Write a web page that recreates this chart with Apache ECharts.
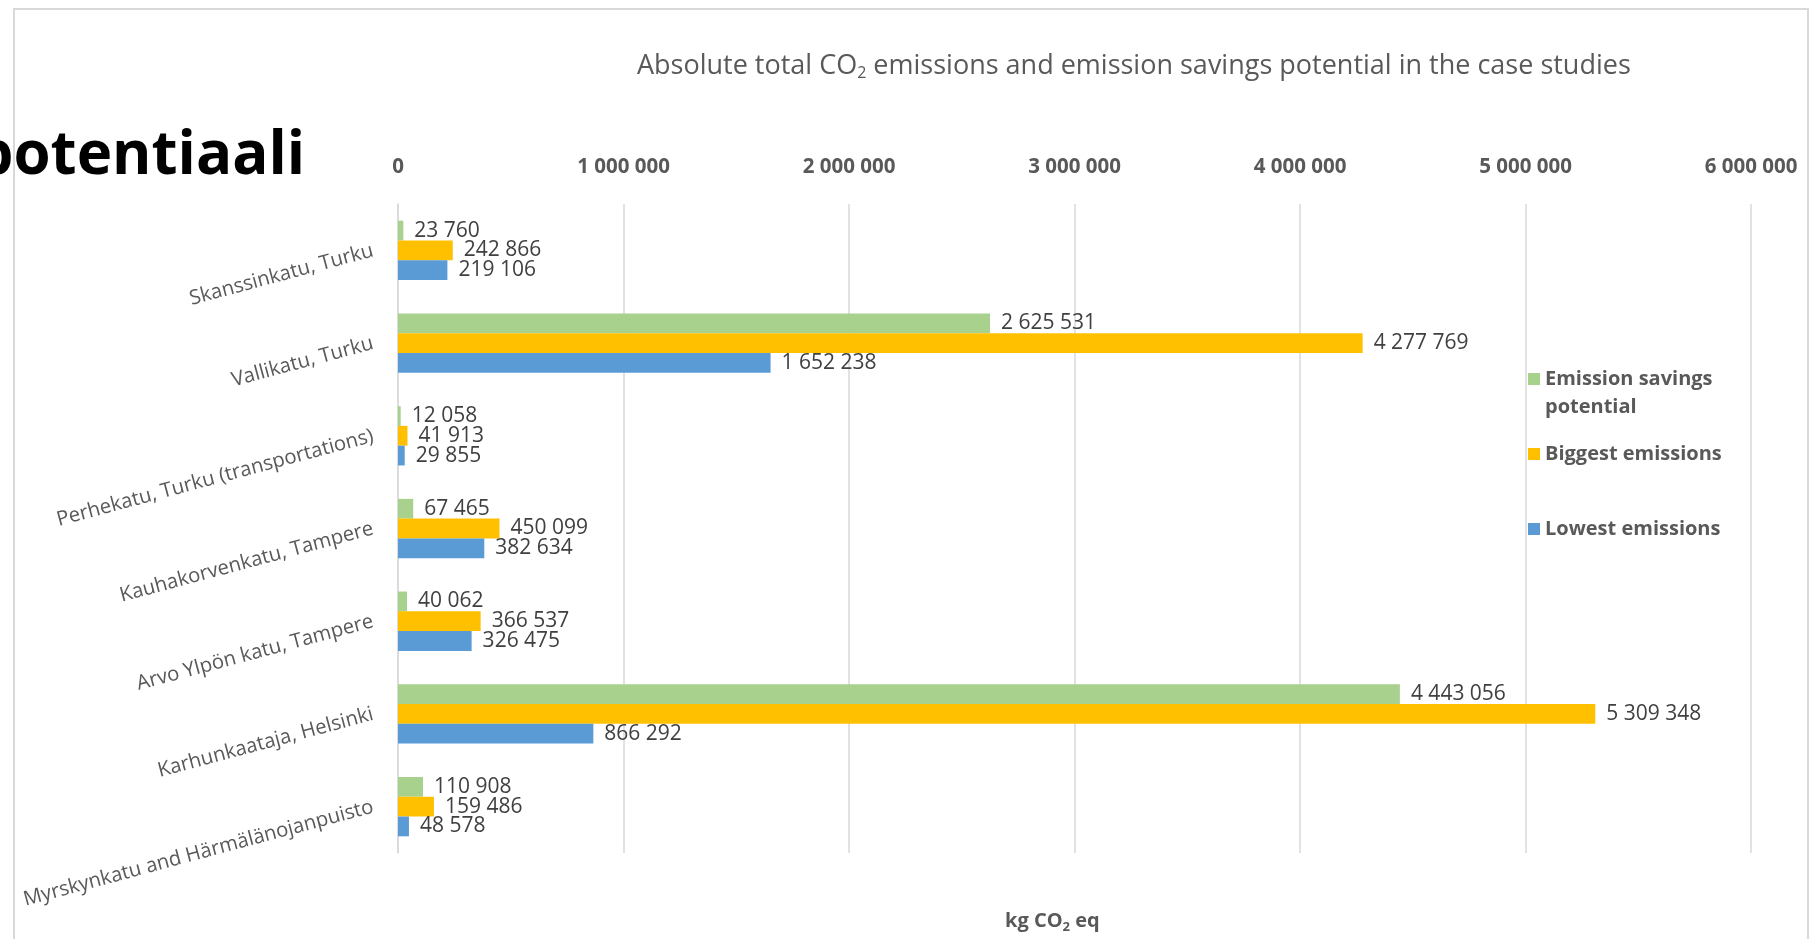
<!DOCTYPE html>
<html>
<head>
<meta charset="utf-8">
<title>CO2 emissions and savings potential</title>
<script src="https://cdn.jsdelivr.net/npm/echarts@6/dist/echarts.min.js"></script>
<style>
  html, body { margin: 0; padding: 0; background: #ffffff; }
  #chart { width: 1817px; height: 939px; }
</style>
</head>
<body>
<div id="chart"></div>
<script>
// Case study sites, top to bottom
const sites = [
  'Skanssinkatu, Turku',
  'Vallikatu, Turku',
  'Perhekatu, Turku (transportations)',
  'Kauhakorvenkatu, Tampere',
  'Arvo Ylpön katu, Tampere',
  'Karhunkaataja, Helsinki',
  'Myrskynkatu and Härmälänojanpuisto'
];

// kg CO2 eq per site
const savingsPotential = [23760, 2625531, 12058, 67465, 40062, 4443056, 110908];
const biggestEmissions = [242866, 4277769, 41913, 450099, 366537, 5309348, 159486];
const lowestEmissions  = [219106, 1652238, 29855, 382634, 326475, 866292, 48578];

const seriesNames = ['Emission savings potential', 'Biggest emissions', 'Lowest emissions'];

// Value axis ticks
const axisMin = 0;
const axisMax = 6000000;
const axisStep = 1000000;

const FONT = '"Open Sans", sans-serif';
const GREY = '#595959';

function spaced(v) {
  return String(Math.round(v)).replace(/\B(?=(\d{3})+(?!\d))/g, ' ');
}

const chart = echarts.init(document.getElementById('chart'), null, { renderer: 'canvas' });

const barLabel = {
  show: true,
  position: 'right',
  distance: 11,
  color: '#404040',
  fontFamily: FONT,
  fontSize: 21,
  formatter: p => spaced(p.value)
};

function legendBox(name, top, extra) {
  return Object.assign({
    data: [name],
    orient: 'vertical',
    left: 1528,
    top: top,
    padding: 0,
    itemWidth: 12,
    itemHeight: 12,
    itemGap: 8,
    icon: 'rect',
    selectedMode: false,
    textStyle: { color: GREY, fontFamily: FONT, fontWeight: 'bold', fontSize: 20, lineHeight: 28 }
  }, extra || {});
}

chart.setOption({
  backgroundColor: '#ffffff',
  animation: false,
  title: [
    {
      text: '{a|Absolute total CO}{s|2}{a| emissions and emission savings potential in the case studies}',
      left: 637,
      top: 51,
      padding: 0,
      textStyle: {
        fontWeight: 'normal',
        rich: {
          a: { fontFamily: FONT, fontSize: 27, fontWeight: 'normal', color: GREY, lineHeight: 30 },
          s: { fontFamily: FONT, fontSize: 16, fontWeight: 'normal', color: GREY, lineHeight: 18, verticalAlign: 'bottom' }
        }
      }
    },
    {
      text: '{a|kg CO}{s|2}{a| eq}',
      left: 1005,
      top: 908,
      padding: 0,
      textStyle: {
        rich: {
          a: { fontFamily: FONT, fontSize: 20, fontWeight: 'bold', color: GREY, lineHeight: 26 },
          s: { fontFamily: FONT, fontSize: 13, fontWeight: 'bold', color: GREY, lineHeight: 14, verticalAlign: 'bottom' }
        }
      }
    }
  ],
  legend: [
    // leading blank line keeps the swatch level with the first line of the wrapped name
    legendBox(seriesNames[0], 337, { formatter: '\nEmission savings\npotential' }),
    legendBox(seriesNames[1], 440),
    legendBox(seriesNames[2], 515)
  ],
  grid: {
    left: 398,
    right: 66,
    top: 204,
    bottom: 86,
    containLabel: false,
    outerBoundsMode: 'none'
  },
  xAxis: {
    type: 'value',
    position: 'top',
    min: axisMin,
    max: axisMax,
    interval: axisStep,
    axisLine: { show: false },
    axisTick: { show: false },
    axisLabel: {
      margin: 26,
      color: GREY,
      fontFamily: FONT,
      fontWeight: 'bold',
      fontSize: 20.5,
      formatter: v => spaced(v)
    },
    splitLine: { show: true, lineStyle: { color: '#d9d9d9', width: 1.5 } }
  },
  yAxis: {
    type: 'category',
    inverse: true,
    data: sites,
    axisLine: { show: true, lineStyle: { color: '#d9d9d9', width: 1.5 } },
    axisTick: { show: false },
    axisLabel: {
      rotate: 15,
      margin: 25,
      padding: [9, 0, 0, 0],
      color: GREY,
      fontFamily: FONT,
      fontSize: 20.3
    }
  },
  series: [
    {
      name: seriesNames[0], type: 'bar', data: savingsPotential,
      itemStyle: { color: '#A9D18E' }, barGap: '0%', barCategoryGap: '36%', label: barLabel
    },
    {
      name: seriesNames[1], type: 'bar', data: biggestEmissions,
      itemStyle: { color: '#FFC000' }, barGap: '0%', barCategoryGap: '36%', label: barLabel
    },
    {
      name: seriesNames[2], type: 'bar', data: lowestEmissions,
      itemStyle: { color: '#5B9BD5' }, barGap: '0%', barCategoryGap: '36%', label: barLabel
    }
  ],
  graphic: [
    {
      type: 'rect',
      shape: { x: 14, y: 9, width: 1794, height: 960 },
      style: { fill: 'none', stroke: '#d9d9d9', lineWidth: 2 },
      silent: true
    },
    {
      type: 'text',
      x: 305,
      y: 157,
      style: {
        text: 'potentiaali',
        align: 'right',
        verticalAlign: 'middle',
        fontFamily: FONT,
        fontWeight: 'bold',
        fontSize: 60,
        fill: '#000000'
      },
      silent: true
    }
  ]
});
</script>
</body>
</html>
